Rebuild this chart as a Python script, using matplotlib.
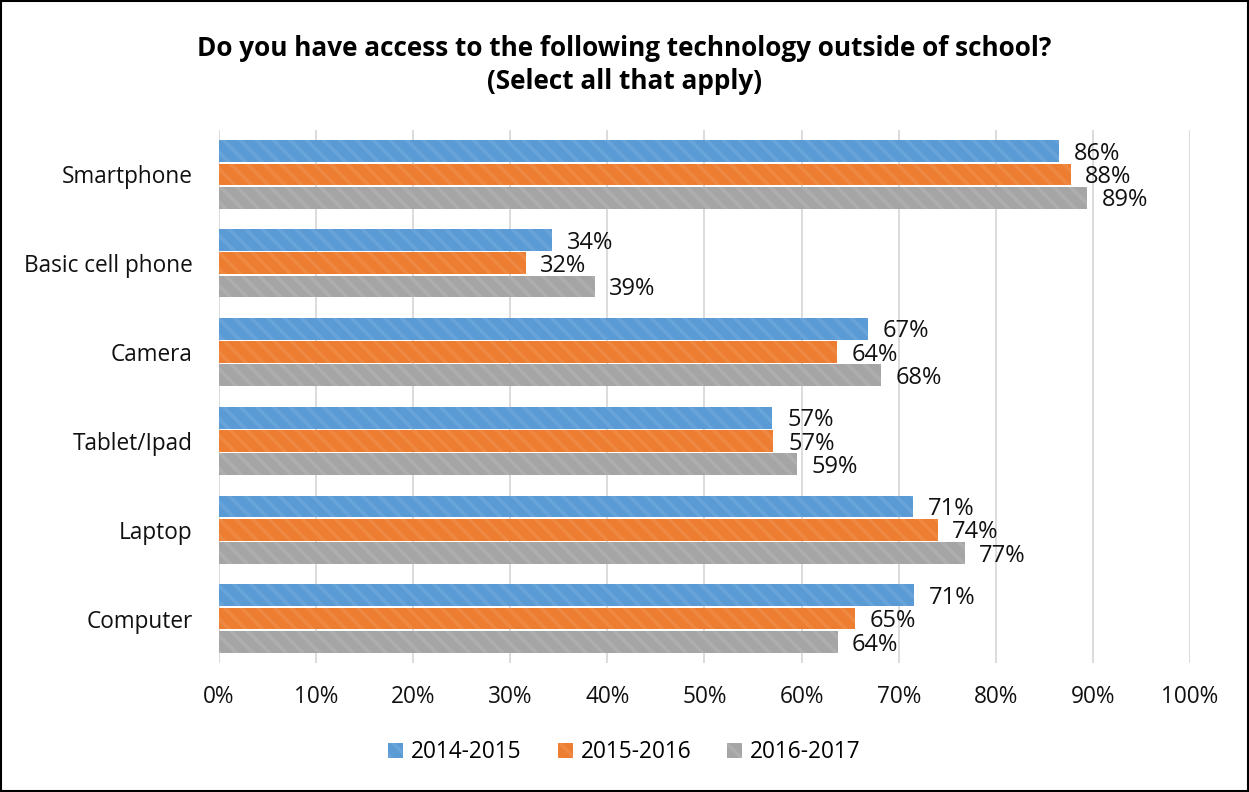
import numpy as np
import matplotlib
matplotlib.use("Agg")
import matplotlib.pyplot as plt
from matplotlib.patches import Rectangle, Patch

plt.rcParams['font.family'] = ['Open Sans', 'DejaVu Sans']
plt.rcParams['hatch.linewidth'] = 2.6

# data
categories = ['Smartphone', 'Basic cell phone', 'Camera', 'Tablet/Ipad', 'Laptop', 'Computer']
series = ['2014-2015', '2015-2016', '2016-2017']
v_2014 = [86.5, 34.3, 66.8, 57.0, 71.5, 71.6]
v_2015 = [87.7, 31.6, 63.6, 57.1, 74.0, 65.5]
v_2016 = [89.4, 38.7, 68.2, 59.5, 76.8, 63.7]
lbl_2014 = ['86%', '34%', '67%', '57%', '71%', '71%']
lbl_2015 = ['88%', '32%', '64%', '57%', '74%', '65%']
lbl_2016 = ['89%', '39%', '68%', '59%', '77%', '64%']

colors = ['#5B9BD5', '#ED7D31', '#A5A5A5']
stripes = ['#68A4DA', '#EF8841', '#AEAEAE']

fig = plt.figure(figsize=(12.49, 7.92), dpi=100)
ax = fig.add_axes([0.1753, 0.1629, 0.7775, 0.673])

y = np.arange(len(categories))
step = 0.262
h = 0.245
vals = [v_2014, v_2015, v_2016]
lbls = [lbl_2014, lbl_2015, lbl_2016]
for i in range(3):
    pos = y + (i - 1) * step
    ax.barh(pos, vals[i], height=h, color=colors[i], linewidth=0, zorder=2)
    ax.barh(pos, vals[i], height=h, facecolor='none', edgecolor=stripes[i],
            hatch='\\\\', linewidth=0, zorder=3)
    for p, v, t in zip(pos, vals[i], lbls[i]):
        ax.text(v + 1.5, p + 0.03, t, va='center', ha='left', fontsize=17, color='#111111')

ax.set_xlim(0, 100)
ax.set_ylim(len(categories) - 0.5, -0.5)
ax.set_xticks(np.arange(0, 101, 10))
ax.set_xticklabels([f'{t}%' for t in range(0, 101, 10)])
ax.set_yticks(y)
ax.set_yticklabels(categories)
ax.tick_params(axis='both', length=0, labelsize=16.3, labelcolor='#111111')
ax.tick_params(axis='x', pad=16)
ax.tick_params(axis='y', pad=19)
ax.grid(axis='x', color='#D9D9D9', linewidth=1.3, zorder=0)
ax.set_axisbelow(True)
for s in ax.spines.values():
    s.set_visible(False)

fig.text(0.5, 0.918, 'Do you have access to the following technology outside of school?\n(Select all that apply)',
         ha='center', va='center', fontsize=18.8, fontweight='bold', linespacing=1.25)

handles = [Patch(facecolor=colors[i], edgecolor=stripes[i], hatch='\\\\', linewidth=0) for i in range(3)]
fig.legend(handles, series, loc='center', bbox_to_anchor=(0.5, 0.05), ncol=3, frameon=False,
           fontsize=16.3, handlelength=0.65, handleheight=0.65, handletextpad=0.35, columnspacing=1.6)

fig.patches.append(Rectangle((0.001, 0.001), 0.998, 0.998, transform=fig.transFigure,
                             fill=False, edgecolor='black', linewidth=1.5))

fig.savefig('out.png', dpi=100)
